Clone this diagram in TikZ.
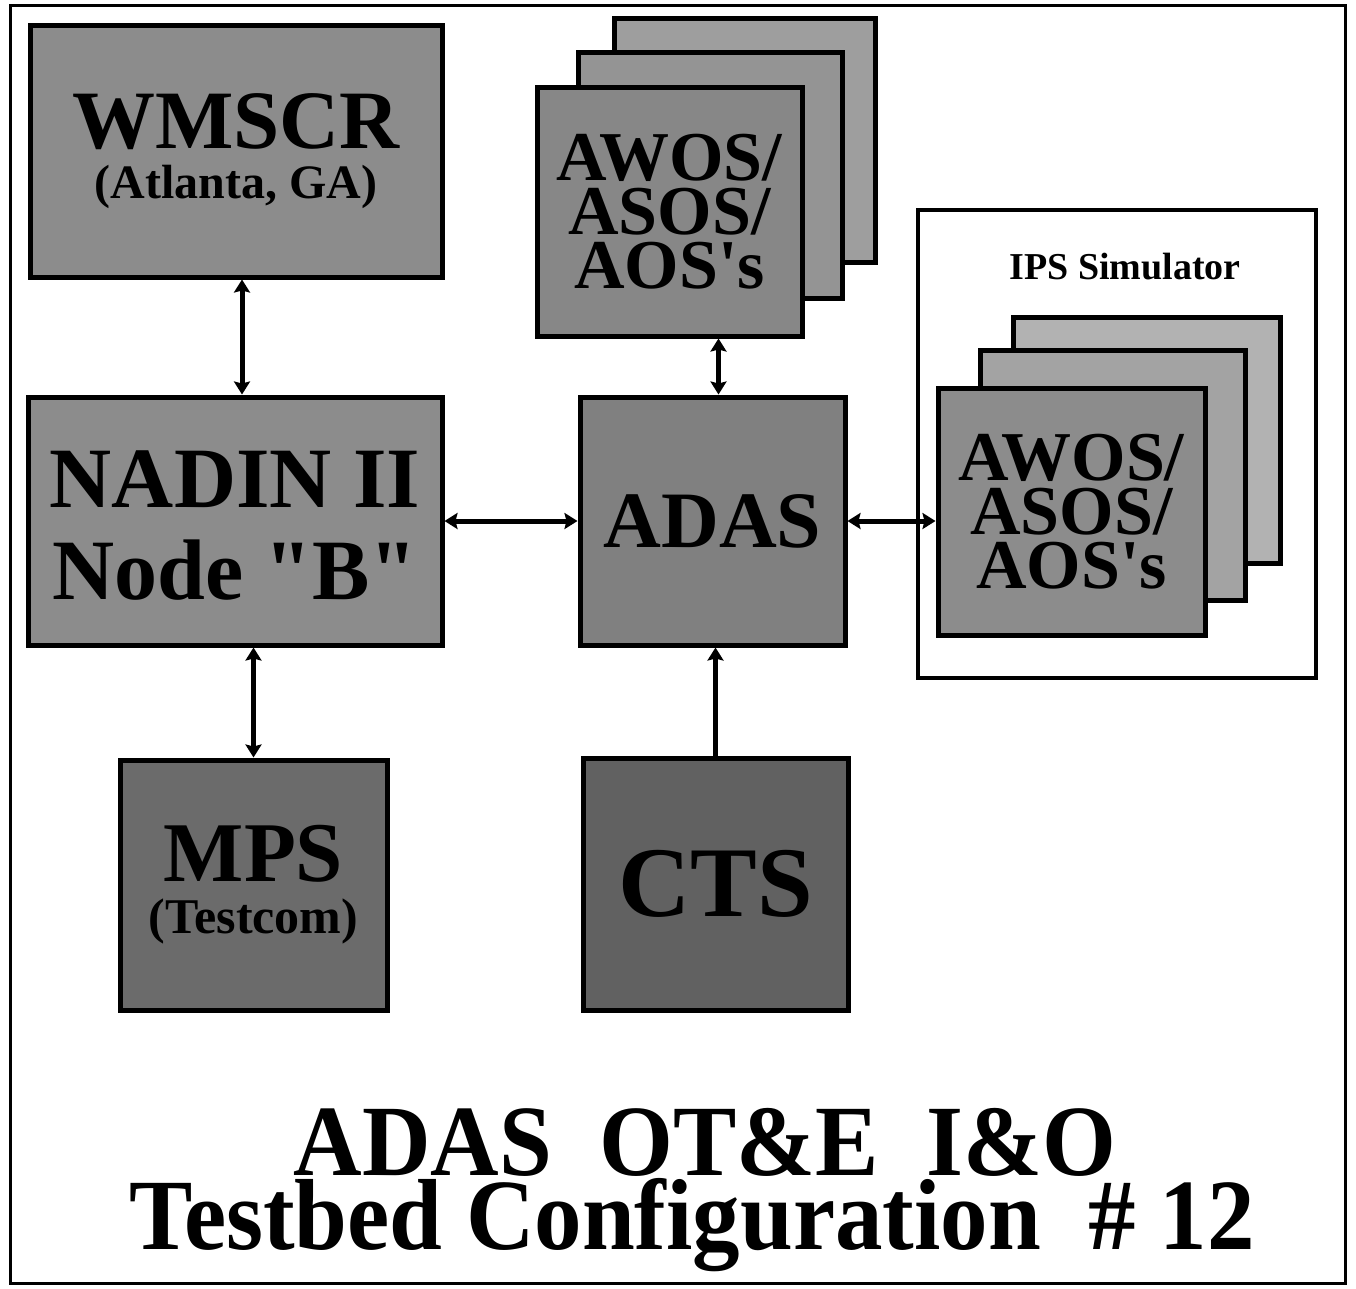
\documentclass[tikz,border=0pt]{standalone}
\usepackage{fontspec}
\setmainfont{Liberation Serif}[Ligatures=TeXOff]
\usetikzlibrary{arrows.meta,calc}
\newcommand{\fsz}[2]{\fontsize{#1}{#2}\selectfont}
\begin{document}
\begin{tikzpicture}[x=1pt,y=-1pt,
  box/.style={draw=black, line width=5pt, fill=#1, inner sep=0pt, align=center, text=black},
  box/.default={black!45},
  tip/.tip={Stealth[length=13pt,width=16pt,inset=2pt]},
  arr/.style={line width=5pt, tip-tip},
  arrone/.style={line width=5pt, -tip},
  title/.style={font=\bfseries\fsz{101}{101}, inner sep=0pt, anchor=base}
]
\useasboundingbox (0,0) rectangle (1356,1288);
\fill[white] (0,0) rectangle (1356,1288);
\draw[line width=3pt] (10,5) rectangle (1345,1283);

% WMSCR
\node[box, minimum width=412pt, minimum height=252pt, font=\bfseries\fsz{83}{50}] (wm) at (236,151)
  {WMSCR\\{\fsz{48}{50}(Atlanta, GA)}};

% NADIN
\node[box, minimum width=414pt, minimum height=248pt, font=\bfseries\fsz{86}{92}] (nadin) at (235,521)
  {\raisebox{-14pt}[\height][\depth]{\begin{tabular}{@{}c@{}}NADIN II\\Node "B"\end{tabular}}};

% ADAS
\node[box={black!50}, minimum width=265pt, minimum height=248pt, font=\bfseries\fsz{80}{80}] (adas) at (712.5,521)
  {ADAS};

% AWOS stack (top)
\node[box={black!38}, minimum width=261pt, minimum height=244pt] (awosb) at (744.5,140) {};
\node[box={black!42}, minimum width=264pt, minimum height=246pt] (awosm) at (710,175) {};
\node[box={black!47}, minimum width=265pt, minimum height=249pt, font=\bfseries\fsz{70}{54}] (awos) at (669.5,211.5)
  {AWOS/\\ASOS/\\AOS's};

% IPS simulator
\node[draw=black, line width=4pt, fill=white, minimum width=398pt, minimum height=468pt] (ips) at (1117,444) {};
\node[font=\bfseries\fsz{38}{38}, inner sep=0pt] (ipst) at (1125,267) {IPS Simulator};
\node[box={black!30}, minimum width=267pt, minimum height=246pt] (ipsb) at (1146.5,440) {};
\node[box={black!36}, minimum width=265pt, minimum height=250pt] (ipsm) at (1112.5,475) {};
\node[box={black!45}, minimum width=267pt, minimum height=247pt, font=\bfseries\fsz{70}{54}] (ipsf) at (1071.5,511.5)
  {AWOS/\\ASOS/\\AOS's};

% MPS
\node[box={black!58}, minimum width=267pt, minimum height=250pt, font=\bfseries\fsz{85}{52}] (mps) at (253.5,885)
  {MPS\\{\fsz{50}{52}(Testcom)}};

% CTS
\node[box={black!62}, minimum width=265pt, minimum height=252pt, font=\bfseries\fsz{100}{100}] (cts) at (715.5,884)
  {CTS};

% connectors
\draw[arr] ([xshift=6pt]wm.south) -- ([xshift=7pt]nadin.north);
\draw[arr] (nadin.east) -- (adas.west);
\draw[arr] (adas.east) -- (adas.east -| ipsf.west);
\draw[arr] ([xshift=6pt]adas.north) -- ([xshift=6pt]adas.north |- awos.south);
\draw[arr] (nadin.south -| mps.north) -- (mps.north);
\draw[arrone] (cts.north) -- (cts.north |- adas.south);

% title
\node[title] (t1) at (705,1175) {\scalebox{0.94}[1]{ADAS\ \ OT\&E\ \ I\&O}};
\node[title] (t2) at (692,1249) {\scalebox{0.94}[1]{Testbed Configuration\ \ \# 12}};
\end{tikzpicture}
\end{document}
